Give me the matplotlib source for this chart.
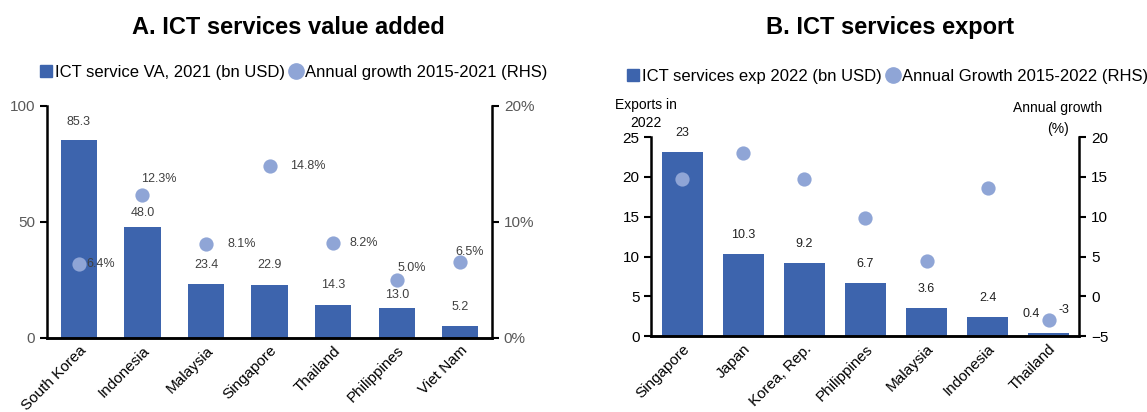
import matplotlib.pyplot as plt
import numpy as np

plt.rcParams['font.family'] = ['Liberation Sans', 'DejaVu Sans']

# Panel A data
va_countries = ["South Korea", "Indonesia", "Malaysia", "Singapore", "Thailand", "Philippines", "Viet Nam"]
va_values = [85.3, 48.0, 23.4, 22.9, 14.3, 13.0, 5.2]
va_growth = [6.4, 12.3, 8.1, 14.8, 8.2, 5.0, 6.5]

# Panel B data
exp_countries = ["Singapore", "Japan", "Korea, Rep.", "Philippines", "Malaysia", "Indonesia", "Thailand"]
exp_values = [23.2, 10.3, 9.2, 6.7, 3.6, 2.4, 0.4]
exp_labels = ["23", "10.3", "9.2", "6.7", "3.6", "2.4", "0.4"]
exp_growth = [14.7, 18.0, 14.7, 9.8, 4.5, 13.6, -3.0]

BAR = "#3D64AD"
DOT = "#8FA5D6"
GREY = "#595959"
PT = 0.72  # points per pixel at dpi 100

fig = plt.figure(figsize=(11.47, 4.12), dpi=100)


def style_axes(ax, ax2, tick_color):
    for a in (ax, ax2):
        a.spines["top"].set_visible(False)
        for s in ("left", "right", "bottom"):
            a.spines[s].set_linewidth(1.8)
        a.tick_params(axis="y", direction="out", length=5, width=1.5,
                      labelsize=11, labelcolor=tick_color)
    ax.spines["right"].set_visible(False)
    ax2.spines["left"].set_visible(False)
    ax.tick_params(axis="x", length=0, labelsize=11, pad=4)


# ---------- Panel A ----------
axA = fig.add_axes([0.041, 0.180, 0.388, 0.563])
x = np.arange(len(va_countries))
axA.bar(x, va_values, width=0.57, color=BAR, zorder=2)
axA.set_xlim(-0.5, 6.5)
axA.set_ylim(0, 100)
axA.set_yticks([0, 50, 100])
axA.set_xticks(x)
axA.set_xticklabels(va_countries, rotation=45, ha="right", rotation_mode="anchor")
bar_lift = [18, 14, 19, 20, 20, 13, 19]  # px above bar top, nudged to dodge dots
for xi, v, dy in zip(x, va_values, bar_lift):
    axA.annotate(f"{v:.1f}", (xi, v), xytext=(0, dy * PT), textcoords="offset points",
                 ha="center", va="center", fontsize=9, color="#404040")

axA2 = axA.twinx()
axA2.scatter(x, va_growth, s=105, color=DOT, zorder=3, linewidths=0)
axA2.set_ylim(0, 20)
axA2.set_yticks([0, 10, 20])
axA2.set_yticklabels(["0%", "10%", "20%"])
# label offsets in pixels (dx to left edge or centre, dy up)
offsets = [(8, 0, "left"), (16, 16, "center"), (22, 0, "left"), (21, 0, "left"),
           (16, 0, "left"), (15, 12, "center"), (9, 10, "center")]
for xi, g, (dx, dy, ha) in zip(x, va_growth, offsets):
    axA2.annotate(f"{g:.1f}%", (xi, g), xytext=(dx * PT, dy * PT), textcoords="offset points",
                  ha=ha, va="center", fontsize=9, color="#404040")
style_axes(axA, axA2, GREY)

fig.text(0.251, 0.933, "A. ICT services value added", ha="center", va="center",
         fontsize=17, fontweight="bold")
hA = [plt.Rectangle((0, 0), 1, 1, color=BAR),
      plt.Line2D([], [], marker="o", ls="", markersize=11, color=DOT)]
fig.legend(hA, ["ICT service VA, 2021 (bn USD)", "Annual growth 2015-2021 (RHS)"],
           loc="center", bbox_to_anchor=(0.256, 0.825), ncol=2, frameon=False,
           fontsize=12, handlelength=0.7, handletextpad=0.2, columnspacing=0.3,
           handleheight=0.8)

# ---------- Panel B ----------
axB = fig.add_axes([0.568, 0.184, 0.373, 0.483])
xb = np.arange(len(exp_countries))
axB.bar(xb, exp_values, width=0.67, color=BAR, zorder=2)
axB.set_xlim(-0.5, 6.5)
axB.set_ylim(0, 25)
axB.set_yticks([0, 5, 10, 15, 20, 25])
axB.set_xticks(xb)
axB.set_xticklabels(exp_countries, rotation=45, ha="right", rotation_mode="anchor")
for xi, v, lab in zip(xb, exp_values, exp_labels):
    dx = -18 if xi == len(xb) - 1 else 0
    axB.annotate(lab, (xi, v), xytext=(dx * PT, 19 * PT), textcoords="offset points",
                 ha="center", va="center", fontsize=9, color="#202020")

axB2 = axB.twinx()
axB2.scatter(xb, exp_growth, s=105, color=DOT, zorder=3, linewidths=0)
axB2.set_ylim(-5, 20)
axB2.set_yticks([-5, 0, 5, 10, 15, 20])
axB2.annotate(f"{exp_growth[-1]:.0f}", (xb[-1], exp_growth[-1]), xytext=(15 * PT, 10 * PT),
              textcoords="offset points", ha="center", va="center", fontsize=9,
              color="#202020")
style_axes(axB, axB2, "black")

fig.text(0.776, 0.933, "B. ICT services export", ha="center", va="center",
         fontsize=17, fontweight="bold")
hB = [plt.Rectangle((0, 0), 1, 1, color=BAR),
      plt.Line2D([], [], marker="o", ls="", markersize=11, color=DOT)]
fig.legend(hB, ["ICT services exp 2022 (bn USD)", "Annual Growth 2015-2022 (RHS)"],
           loc="center", bbox_to_anchor=(0.774, 0.815), ncol=2, frameon=False,
           fontsize=12, handlelength=0.7, handletextpad=0.2, columnspacing=0.3,
           handleheight=0.8)
fig.text(0.563, 0.745, "Exports in", ha="center", va="center", fontsize=10)
fig.text(0.563, 0.701, "2022", ha="center", va="center", fontsize=10)
fig.text(0.922, 0.738, "Annual growth", ha="center", va="center", fontsize=10)
fig.text(0.922, 0.688, "(%)", ha="center", va="center", fontsize=10)

fig.savefig("out.png", dpi=100)
